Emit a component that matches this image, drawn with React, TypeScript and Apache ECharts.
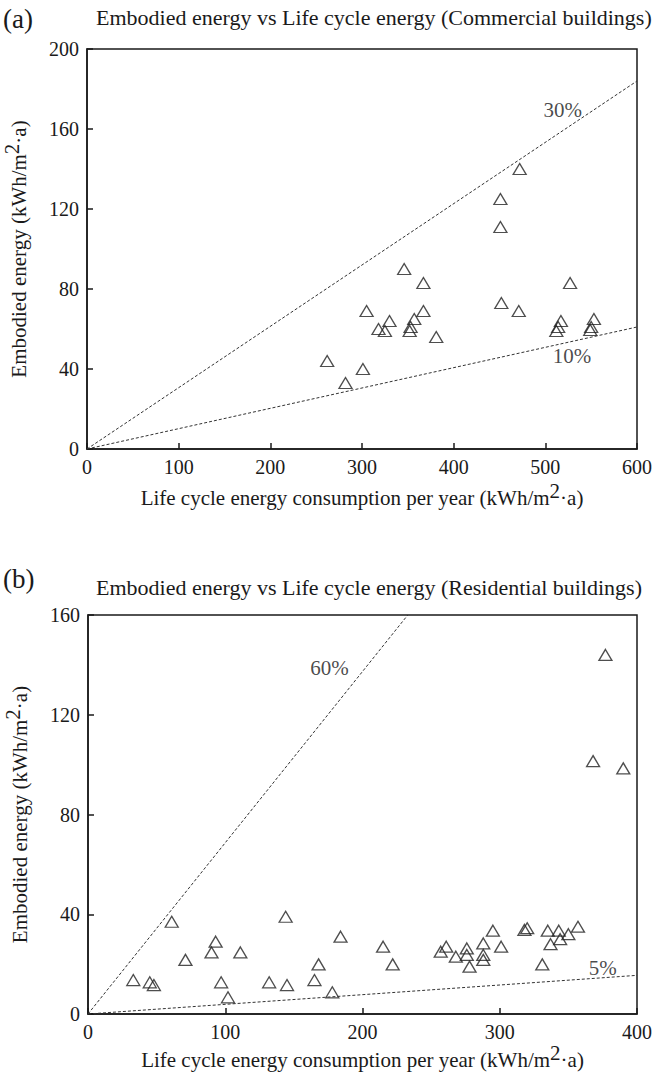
import React, { useEffect, useRef } from "react";
import * as echarts from "echarts";

// ---- Data ----
const commercialLife = [472, 451, 451, 346, 367, 527, 452, 305, 367, 471, 330, 357, 353, 352, 517, 514, 512, 553, 550, 549, 318, 325, 381, 262, 301, 282];
const commercialEmbodied = [140, 125, 111, 90, 83, 83, 73, 69, 69, 69, 64, 65, 61, 59, 64, 61, 59, 65, 61, 59.5, 60, 59, 56, 44, 40, 33];

const residentialLife = [33, 45, 48, 61, 71, 93, 90, 97, 102, 111, 132, 144, 145, 165, 168, 178, 184, 215, 222, 257, 261, 268, 276, 276, 278, 288, 288, 288, 295, 301, 318, 320, 331, 335, 337, 343, 344, 350, 357, 377, 368, 390];
const residentialEmbodied = [13.6, 12.7, 11.6, 37, 21.7, 29, 24.7, 12.7, 6.7, 24.7, 12.7, 39, 11.6, 13.6, 19.9, 8.7, 31, 27, 19.9, 25, 27, 23, 26.3, 23.7, 19, 28.3, 23.7, 21.7, 33.4, 27, 33.7, 34.4, 19.9, 33.4, 28, 33.4, 30, 32, 35, 144, 101.4, 98.5];

const commercialUpperLine = [[0, 0], [600, 184]];
const commercialLowerLine = [[0, 0], [600, 61]];
const residentialUpperLine = [[0, 0], [233, 160]];
const residentialLowerLine = [[0, 0], [400, 15.5]];

const commercialRatioLabels = [
  { name: "30%", value: [519, 169.5] },
  { name: "10%", value: [529, 46.5] },
];
const residentialRatioLabels = [
  { name: "60%", value: [176, 138.7] },
  { name: "5%", value: [375, 18.4] },
];

const commercialXTicks = { min: 0, max: 600, interval: 100 };
const commercialYTicks = { min: 0, max: 200, interval: 40 };
const residentialXTicks = { min: 0, max: 400, interval: 100 };
const residentialYTicks = { min: 0, max: 160, interval: 40 };

const FONT = "'Liberation Serif', 'Times New Roman', serif";
const INK = "#1a1a1a";

const richName = {
  n: { fontFamily: FONT, fontSize: 21, color: INK, lineHeight: 28, verticalAlign: "bottom" },
  s: { fontFamily: FONT, fontSize: 21, color: INK, lineHeight: 16, verticalAlign: "top" },
};

function xAxisCfg(gridIndex: number, t: { min: number; max: number; interval: number }, gap: number) {
  return {
    type: "value",
    gridIndex,
    min: t.min,
    max: t.max,
    interval: t.interval,
    name: "{n|Life cycle energy consumption per year (kWh/m}{s|2}{n|·a)}",
    nameLocation: "middle",
    nameGap: gap,
    nameTextStyle: { rich: richName },
    axisLine: { show: true, onZero: false, lineStyle: { color: INK, width: 1.5 } },
    axisTick: { show: true, inside: true, length: 6, lineStyle: { color: INK, width: 1.5 } },
    axisLabel: { fontFamily: FONT, fontSize: 20, color: INK, margin: 8 },
    splitLine: { show: false },
  };
}

function yAxisCfg(gridIndex: number, t: { min: number; max: number; interval: number }, gap: number) {
  return {
    type: "value",
    gridIndex,
    min: t.min,
    max: t.max,
    interval: t.interval,
    name: "{n|Embodied energy (kWh/m}{s|2}{n|·a)}",
    nameLocation: "middle",
    nameRotate: 90,
    nameGap: gap,
    nameTextStyle: { rich: richName },
    axisLine: { show: true, onZero: false, lineStyle: { color: INK, width: 1.5 } },
    axisTick: { show: true, inside: true, length: 6, lineStyle: { color: INK, width: 1.5 } },
    axisLabel: { fontFamily: FONT, fontSize: 20, color: INK, margin: 8 },
    splitLine: { show: false },
  };
}

function dashed(data: number[][], xi: number, yi: number) {
  return {
    type: "line",
    xAxisIndex: xi,
    yAxisIndex: yi,
    data,
    showSymbol: false,
    silent: true,
    lineStyle: { color: "#333", width: 1, type: [3, 2] },
  };
}

function pointsSeries(xs: number[], ys: number[], idx: number) {
  return {
    type: "scatter",
    xAxisIndex: idx,
    yAxisIndex: idx,
    data: xs.map((x, i) => [x, ys[i]]),
    symbol: "triangle",
    symbolSize: [13, 11],
    itemStyle: { color: "rgba(255,255,255,0)", borderColor: "#222", borderWidth: 1.3 },
  };
}

function labelSeries(data: { name: string; value: number[] }[], idx: number) {
  return {
    type: "scatter",
    xAxisIndex: idx,
    yAxisIndex: idx,
    data,
    symbolSize: 1,
    silent: true,
    itemStyle: { color: "rgba(0,0,0,0)" },
    label: {
      show: true,
      position: "inside",
      formatter: "{b}",
      fontFamily: FONT,
      fontSize: 21,
      color: INK,
    },
  };
}

export default function App() {
  const ref = useRef<HTMLDivElement>(null);
  useEffect(() => {
    if (!ref.current) return;
    const chart = echarts.init(ref.current, undefined, { renderer: "svg" });
    const titleStyle = { fontFamily: FONT, fontSize: 22, fontWeight: "normal", color: INK };
    const tagStyle = { fontFamily: FONT, fontSize: 27, fontWeight: "normal", color: INK };
    const gridBase = {
      show: true,
      borderColor: INK,
      borderWidth: 1.5,
      backgroundColor: "transparent",
      containLabel: false,
      outerBoundsMode: "none",
    };
    chart.setOption({
      animation: false,
      backgroundColor: "#ffffff",
      title: [
        { text: "(a)", left: 3, top: 5, textStyle: tagStyle, padding: 0 },
        { text: "Embodied energy vs Life cycle energy (Commercial buildings)", left: 96, top: 6, textStyle: titleStyle, padding: 0 },
        { text: "(b)", left: 3, top: 565, textStyle: tagStyle, padding: 0 },
        { text: "Embodied energy vs Life cycle energy (Residential buildings)", left: 96, top: 576, textStyle: titleStyle, padding: 0 },
      ],
      grid: [
        { ...gridBase, left: 87, top: 49, width: 550, height: 400 },
        { ...gridBase, left: 88, top: 615, width: 549, height: 399 },
      ],
      xAxis: [xAxisCfg(0, commercialXTicks, 31), xAxisCfg(1, residentialXTicks, 28)],
      yAxis: [yAxisCfg(0, commercialYTicks, 58), yAxisCfg(1, residentialYTicks, 58)],
      series: [
        dashed(commercialUpperLine, 0, 0),
        dashed(commercialLowerLine, 0, 0),
        pointsSeries(commercialLife, commercialEmbodied, 0),
        labelSeries(commercialRatioLabels, 0),
        dashed(residentialUpperLine, 1, 1),
        dashed(residentialLowerLine, 1, 1),
        pointsSeries(residentialLife, residentialEmbodied, 1),
        labelSeries(residentialRatioLabels, 1),
      ],
    });
    return () => chart.dispose();
  }, []);
  return (
    <div
      ref={ref}
      style={{ position: "fixed", left: 0, top: 0, width: 656, height: 1076, background: "#fff" }}
    />
  );
}
